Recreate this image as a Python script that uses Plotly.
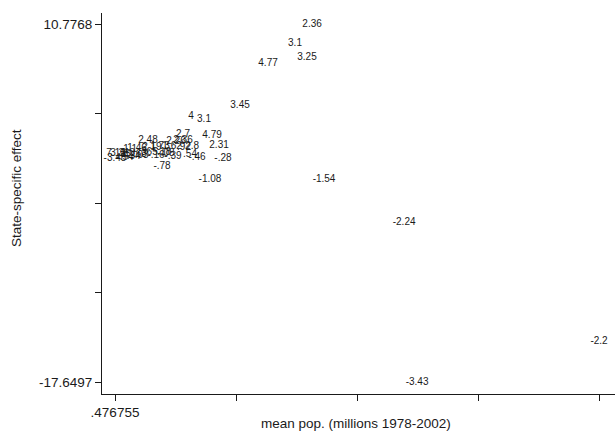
import plotly.graph_objects as go

# mean population (millions, 1978-2002)
pop = [12.02, 11.02, 11.72, 9.44, 7.80, 4.93, 5.69, 6.16, 6.57, 6.80, 6.04, 3.23,
       12.72, 17.41, 28.8246, 18.17,
       4.46, 4.46, 4.05, 2.41, 4.99, 4.52, 3.82, 3.11, 2.64, 1.77, 1.36, 3.87,
       4.87, 5.28, 3.35, 2.41, 1.94, 1.24, 0.54, 0.77, 1.00, 0.476755, 1.06,
       1.47, 1.94, 2.88, 3.46]
# state-specific effect
effect = [10.7768, 9.19, 8.08, 7.68, 4.27, 3.47, 3.23, 1.96, 1.17, 0.06, -1.53, -0.50,
          -1.53, -4.95, -14.47, -17.6497,
          2.04, 1.49, 1.41, 1.49, 1.09, 1.01, 1.09, 1.09, 1.01, 0.93, 0.85, 0.22,
          0.45, 0.14, 0.61, 0.61, 0.45, 0.53, 0.53, 0.53, 0.45, 0.06, 0.14,
          0.22, 0.30, 0.37, 0.53]
# marker labels
labels = ["2.36", "3.1", "3.25", "4.77", "3.45", "4", "3.1", "4.79", "2.31", "-.28", "-1.08", "-.78",
          "-1.54", "-2.24", "-2.2", "-3.43",
          "2.7", "2.36", "2.26", "2.48", "2.8", ".92", "1.62", "1.73", "2.19", "1.46", "1.1", "-.39",
          ".54", "-.46", ".18", ".365", ".63", "1.3", "7.13", "3.31", ".95", "-3.48", "-.54",
          "-.34", "-.03", "-.16", "-.08"]

x_ticks = [0.476755, 7.563717, 14.650678, 21.737639, 28.8246]
x_ticktext = [".476755", "", "", "", "28.8246"]
y_ticks = [-17.6497, -10.5431, -3.4365, 3.6702, 10.7768]
y_ticktext = ["-17.6497", "", "", "", "10.7768"]

FONT = "Liberation Sans, Arial, sans-serif"

fig = go.Figure(go.Scatter(
    x=pop, y=effect, text=labels, mode="text",
    textposition="middle center",
    textfont=dict(family=FONT, size=10, color="#1a1a1a"),
    cliponaxis=False, hoverinfo="skip", showlegend=False,
))

fig.update_layout(
    width=615, height=437,
    margin=dict(l=102, r=0, t=13, b=43),
    paper_bgcolor="white", plot_bgcolor="white",
    font=dict(family=FONT, size=13.5, color="#1a1a1a"),
    xaxis=dict(range=[-0.285, 29.76], tickvals=x_ticks, ticktext=x_ticktext,
               ticks="outside", ticklen=6, tickwidth=1, tickcolor="#1a1a1a",
               showline=True, linecolor="#1a1a1a", linewidth=1,
               showgrid=False, zeroline=False, tickangle=0),
    yaxis=dict(range=[-18.60, 11.65], tickvals=y_ticks, ticktext=y_ticktext,
               ticks="outside", ticklen=6, tickwidth=1, tickcolor="#1a1a1a",
               showline=True, linecolor="#1a1a1a", linewidth=1,
               showgrid=False, zeroline=False),
    annotations=[
        dict(text="mean pop. (millions 1978-2002)", xref="paper", yref="paper",
             x=0.495, y=-0.0787, xanchor="center", yanchor="middle",
             showarrow=False, font=dict(size=13.5)),
        dict(text="State-specific effect", xref="paper", yref="paper",
             x=-0.1657, y=0.5407, xanchor="center", yanchor="middle",
             textangle=-90, showarrow=False, font=dict(size=13.5)),
    ],
)

fig.write_html("out.html", config={"displayModeBar": False})

# remove the default page margin so the figure sits at the window's top-left corner
with open("out.html", encoding="utf-8") as f:
    html = f.read()
html = html.replace("<head>", "<head><style>html,body{margin:0;padding:0;overflow:hidden;}</style>", 1)
with open("out.html", "w", encoding="utf-8") as f:
    f.write(html)
